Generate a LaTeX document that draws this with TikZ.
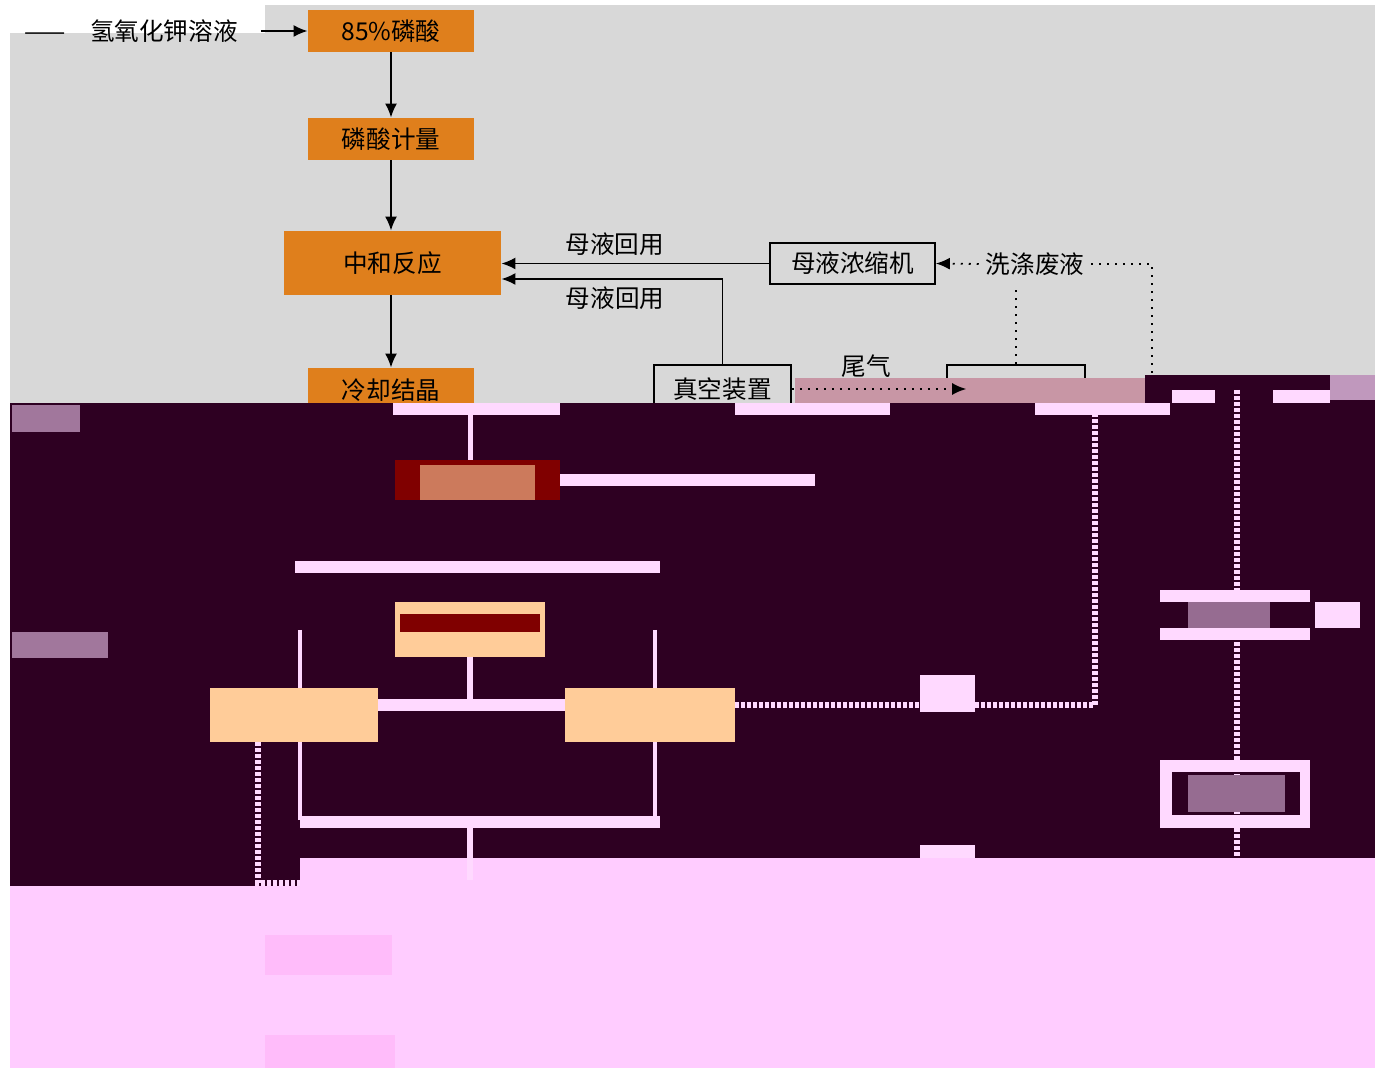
\documentclass[tikz,border=0pt]{standalone}
\usepackage{fontspec}
\setmainfont{Noto Sans CJK SC}
\usetikzlibrary{arrows.meta,positioning}
\definecolor{bggrey}{RGB}{216,216,216}
\definecolor{procorange}{RGB}{223,127,28}
\definecolor{darkband}{RGB}{46,0,34}
\definecolor{pinkband}{RGB}{255,204,255}
\definecolor{faintpink}{RGB}{255,188,250}
\definecolor{glitchpink}{RGB}{255,217,255}
\definecolor{glitchpeach}{RGB}{255,204,153}
\definecolor{glitchred}{RGB}{128,0,0}
\definecolor{glitchmauve}{RGB}{200,150,165}

\begin{document}
\begin{tikzpicture}[x=0.5pt, y=-0.5pt, font=\fontsize{12.3}{14}\selectfont,
    procbox/.style={fill=procorange, inner sep=0pt},
    equipbox/.style={draw=black, line width=0.8pt, inner sep=0pt},
    flow/.style={-{Latex[length=7pt,width=6pt]}, line width=0.9pt},
    dotflow/.style={-{Latex[length=7pt,width=6pt]}, line width=0.9pt, dash pattern=on 1pt off 3pt},
    dotline/.style={line width=0.9pt, dash pattern=on 1pt off 3pt},
    glitchbar/.style={draw=glitchpink, line width=6pt},
    glitchline/.style={draw=glitchpink, line width=2pt},
    glitchdots/.style={draw=glitchpink, line width=3pt, dash pattern=on 2pt off 1pt}]
    \useasboundingbox (0,0) rectangle (1375,1068);
    \fill[white] (0,0) rectangle (1375,1068);
    \fill[bggrey] (10,5) rectangle (1375,403);
    \fill[white] (10,5) rectangle (265,33);

    % main line
    \node (koh) at (131,31) {——\quad 氢氧化钾溶液};
    \node[procbox, minimum width=83pt, minimum height=21pt] (p85) at (391,31) {85\%磷酸};
    \node[procbox, minimum width=83pt, minimum height=21pt] (meter) at (391,139) {磷酸计量};
    \node[procbox, minimum width=108.5pt, minimum height=32pt] (zh) at (392.5,263) {中和反应};
    \node[procbox, minimum width=83pt, minimum height=22pt] (cool) at (391,390) {冷却结晶};

    \draw[flow, shorten <=8pt] (koh.east) -- (p85.west);
    \draw[flow] (p85.south) -- (meter.north);
    \draw[flow] (meter.south) -- (meter.south |- zh.north);
    \draw[flow] (zh.south -| cool.north) -- (cool.north);

    % side equipment
    \node[equipbox, minimum width=82.5pt, minimum height=20.5pt] (conc) at (852.5,263.5) {母液浓缩机};
    \node (wash) at (1035,264) {洗涤废液};
    \node[equipbox, minimum width=68.5pt, minimum height=24pt] (vac) at (722.5,389) {真空装置};
    \node[equipbox, minimum width=69pt, minimum height=24pt] (scrub) at (1016,389) {};
    \node (tail) at (866,366) {尾气};
    \coordinate (washdrop) at (1152,380);

    \draw[flow] (conc.west) -- (conc.west -| zh.east) node[pos=0.576, above] {母液回用};
    \draw[flow] (vac.north) |- ([yshift=-8pt]zh.east) node[pos=0.743, below] {母液回用};
    \draw[dotflow] (wash.west) -- (conc.east);
    \draw[dotline, shorten >=4pt] (scrub.north) -- (scrub.north |- wash.south);
    \draw[dotline] (wash.east) -| (washdrop);

    % damaged part of the picture
    \fill[glitchmauve] (795,378) rectangle (1145,403);
    \fill[darkband] (1145,375) rectangle (1375,403);
    \fill[darkband] (10,403) rectangle (1375,858);
    \fill[darkband] (10,858) rectangle (300,886);
    \fill[pinkband] (300,858) rectangle (1375,1068);
    \fill[pinkband] (10,886) rectangle (300,1068);
    \draw[dotflow, shorten >=-10pt] (vac.east) -- (scrub.west);

    \fill[glitchpink] (393,403) rectangle (560,415);
    \fill[glitchpink] (735,403) rectangle (890,415);
    \fill[glitchpink] (1035,403) rectangle (1170,415);
    \fill[glitchpink] (1172,390) rectangle (1215,403);
    \fill[glitchpink] (1273,390) rectangle (1330,403);
    \fill[glitchpink!70!darkband] (1330,375) rectangle (1375,400);
    \fill[glitchpink!55!darkband] (12,405) rectangle (80,432);
    \fill[glitchpink!55!darkband] (12,632) rectangle (108,658);

    \node[fill=glitchred, inner sep=0pt, minimum width=82.5pt, minimum height=20pt] (sep) at (477.5,480) {};
    \fill[glitchpeach!60!glitchred] (420,465) rectangle (535,500);
    \draw[glitchline, line width=2.5pt] (470,415) -- (470,460);
    \draw[glitchbar] (sep.east) -- ++(255,0);
    \draw[glitchbar] (295,567) -- (660,567);

    \node[fill=glitchpeach, inner sep=0pt, minimum width=75pt, minimum height=27.5pt] (dry) at (470,629.5) {};
    \fill[glitchred] (400,614) rectangle (540,632);
    \node[fill=glitchpeach, inner sep=0pt, minimum width=84pt, minimum height=27pt] (left) at (294,715) {};
    \node[fill=glitchpeach, inner sep=0pt, minimum width=85pt, minimum height=27pt] (right) at (650,715) {};
    \draw[glitchline] (300,630) -- (left.north -| 300,0);
    \draw[glitchline] (655,630) -- (right.north -| 655,0);
    \draw[glitchbar] ([yshift=5pt]left.east) -- ([yshift=5pt]right.west);
    \draw[glitchline, line width=3pt] (dry.south) -- (470,705);
    \draw[glitchline] (left.south -| 300,0) -- (300,820);
    \draw[glitchline] (right.south -| 655,0) -- (655,820);
    \draw[glitchbar] (300,822) -- (660,822);
    \draw[glitchline, line width=3pt] (470,828) -- (470,880);
    \draw[glitchdots] (left.south -| 258,0) -- (258,883) -- (300,883);
    \draw[glitchdots] ([yshift=5pt]right.east) -- (1095,705) -- (1095,415);
    \fill[glitchpink] (920,675) rectangle (975,712);
    \fill[glitchpink] (920,845) rectangle (975,858);

    \draw[glitchdots] (1237,390) -- (1237,858);
    \fill[glitchpink] (1160,590) rectangle (1310,602);
    \fill[glitchpink] (1160,628) rectangle (1310,640);
    \fill[glitchpink!50!darkband] (1188,602) rectangle (1270,628);
    \fill[glitchpink] (1315,602) rectangle (1360,628);
    \fill[glitchpink] (1160,760) rectangle (1310,772);
    \fill[glitchpink] (1160,815) rectangle (1310,828);
    \fill[glitchpink] (1160,760) rectangle (1172,828);
    \fill[glitchpink] (1300,760) rectangle (1310,828);
    \fill[glitchpink!50!darkband] (1188,775) rectangle (1285,812);

    \fill[faintpink] (265,935) rectangle (392,975);
    \fill[faintpink] (265,1035) rectangle (395,1068);
\end{tikzpicture}
\end{document}
